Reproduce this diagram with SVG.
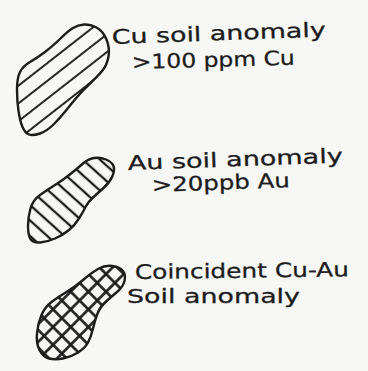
<svg xmlns="http://www.w3.org/2000/svg" width="368" height="371" viewBox="0 0 368 371">
  <style>
    .bg { fill: #f7f7f5; }
    .outline { stroke: #1c1c1c; stroke-width: 2.4; stroke-linejoin: round; }
    .lbl { font-family: "DejaVu Sans", "Liberation Sans", sans-serif; font-size: 20px; fill: #1c1c1c; stroke: #1c1c1c; stroke-width: 0.3; }
    .hl { stroke: #1c1c1c; }
  </style>
  <defs>
    <pattern id="hatchCu" patternUnits="userSpaceOnUse" width="14" height="14" patternTransform="translate(3 0) rotate(52)">
      <line class="hl" x1="7" y1="-1" x2="7" y2="15" stroke-width="1.9"/>
    </pattern>
    <pattern id="hatchAu" patternUnits="userSpaceOnUse" width="11.5" height="11.5" patternTransform="rotate(-48)">
      <line class="hl" x1="5.75" y1="-1" x2="5.75" y2="12.5" stroke-width="2.3"/>
    </pattern>
    <pattern id="hatchX" patternUnits="userSpaceOnUse" width="12.5" height="12.5" patternTransform="rotate(45)">
      <line class="hl" x1="6.25" y1="-1" x2="6.25" y2="13.5" stroke-width="2.6"/>
      <line class="hl" x1="-1" y1="6.25" x2="13.5" y2="6.25" stroke-width="2.6"/>
    </pattern>
  </defs>
  <rect class="bg" x="0" y="0" width="368" height="371"/>

  <g id="cu-anomaly">
    <path class="outline" fill="url(#hatchCu)" stroke-width="2.1" d="M96.5,27.5 Q103,31 106.5,39.5 Q110,48 108.5,56.5 Q107,65 102.5,70.5 Q98,76 90.5,83 Q83,90 77.5,96.5 Q72,103 66,110.5 Q60,118 53.5,124.5 Q47,131 40,133.5 Q33,136 29,134.5 Q25,133 22.5,127 Q20,121 18.5,111 Q17,101 17,89.5 Q17,78 20,72 Q23,66 30,62 Q37,58 45,52 Q53,46 60.5,38.5 Q68,31 73,28 Q78,25 84,24.5 Q90,24 96.5,27.5 Z"/>
    <text class="lbl" x="112" y="44" textLength="214" lengthAdjust="spacingAndGlyphs" transform="rotate(-2 112 44)">Cu soil anomaly</text>
    <text class="lbl" x="132" y="69" textLength="163" lengthAdjust="spacingAndGlyphs" transform="rotate(-1.5 132 69)">&gt;100 ppm Cu</text>
  </g>

  <g id="au-anomaly">
    <path class="outline" fill="url(#hatchAu)" stroke-width="2.8" d="M106,159.5 Q112,162 113.5,166 Q115,170 112.5,176 Q110,182 104,187.5 Q98,193 93,197.5 Q88,202 85.5,207 Q83,212 79,218.5 Q75,225 69,230 Q63,235 55,238.5 Q47,242 40,242.5 Q33,243 30.5,239 Q28,235 28,226 Q28,217 30.5,208.5 Q33,200 40,195 Q47,190 55,185 Q63,180 70.5,174 Q78,168 83,163.5 Q88,159 94,158 Q100,157 106,159.5 Z"/>
    <text class="lbl" x="128" y="170" textLength="215" lengthAdjust="spacingAndGlyphs" transform="rotate(-2 128 170)">Au soil anomaly</text>
    <text class="lbl" x="152" y="192" textLength="138" lengthAdjust="spacingAndGlyphs" transform="rotate(-2 152 192)">&gt;20ppb Au</text>
  </g>

  <g id="cu-au-anomaly">
    <path class="outline" fill="url(#hatchX)" stroke-width="2.8" d="M112.5,266 Q120,267 123,271 Q126,275 124.5,281 Q123,287 117,292 Q111,297 105.5,302 Q100,307 97.5,313.5 Q95,320 93,328.5 Q91,337 88,342.5 Q85,348 78,352.5 Q71,357 63,358.5 Q55,360 49,358.5 Q43,357 39.5,350 Q36,343 37,333 Q38,323 41.5,315 Q45,307 51.5,302 Q58,297 66.5,292 Q75,287 83,280 Q91,273 98,269 Q105,265 112.5,266 Z"/>
    <text class="lbl" x="135" y="279" textLength="214" lengthAdjust="spacingAndGlyphs" transform="rotate(-0.7 135 279)">Coincident Cu-Au</text>
    <text class="lbl" x="127" y="303" textLength="173" lengthAdjust="spacingAndGlyphs">Soil anomaly</text>
  </g>

  <g id="connectors"></g>
</svg>
